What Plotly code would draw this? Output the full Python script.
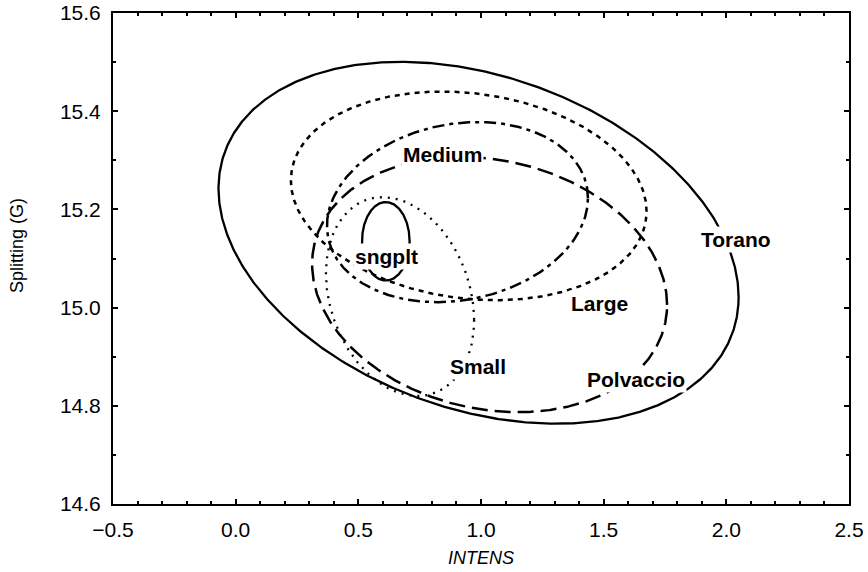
import numpy as np
import plotly.graph_objects as go

# Ellipse summaries (centre, half-axes, correlation)
names = ["Torano", "Polvaccio", "Large", "Medium", "Small", "sngplt"]
center_x = [0.99, 1.035, 0.95, 0.904, 0.67, 0.612]
center_y = [15.132, 15.047, 15.2275, 15.1945, 15.0225, 15.135]
radius_x = [1.06, 0.7235, 0.725, 0.532, 0.302, 0.097]
radius_y = [0.3685, 0.26, 0.2125, 0.1835, 0.2025, 0.08]
corr = [-0.30, -0.16, -0.15, 0.155, -0.235, 0.0]

label_x = [2.040, 1.632, 1.485, 0.845, 0.988, 0.613]
label_y = [15.138, 14.853, 15.009, 15.311, 14.881, 15.105]

x_ticks = [-0.5, 0.0, 0.5, 1.0, 1.5, 2.0, 2.5]
y_ticks = [14.6, 14.8, 15.0, 15.2, 15.4, 15.6]

dashes = ["solid", "16px,7px", "5px,5px", "12px,5px,4px,5px", "2px,6px", "solid"]
widths = [2.3, 2.5, 2.5, 2.5, 2.3, 2.3]

t = np.linspace(0, 2 * np.pi, 721)
fig = go.Figure()
for i, n in enumerate(names):
    r = corr[i]
    xs = center_x[i] + radius_x[i] * np.cos(t)
    ys = center_y[i] + radius_y[i] * (r * np.cos(t) + np.sqrt(1 - r * r) * np.sin(t))
    fig.add_trace(go.Scatter(x=xs, y=ys, mode="lines", name=n,
                             line=dict(color="black", width=widths[i], dash=dashes[i]),
                             hoverinfo="skip", showlegend=False))

for i, n in enumerate(names):
    fig.add_annotation(x=label_x[i], y=label_y[i], text="<b>%s</b>" % n, showarrow=False,
                       font=dict(family="Liberation Sans, Arial", size=21, color="black"),
                       bgcolor="white", borderpad=1)

fig.add_annotation(xref="paper", yref="paper", x=0.5, y=-0.110, text="INTENS",
                   showarrow=False, yanchor="middle",
                   font=dict(family="Liberation Sans, Arial", size=18, color="black", style="italic"))
fig.add_annotation(xref="paper", yref="paper", x=-0.1304, y=0.5255, text="Splitting (G)",
                   showarrow=False, textangle=-90, xanchor="center", yanchor="middle",
                   font=dict(family="Liberation Sans, Arial", size=18, color="black"))

axis_common = dict(showgrid=False, zeroline=False, showline=True, linecolor="black",
                   linewidth=2, mirror="ticks", ticks="inside", ticklen=5, tickwidth=1.5,
                   tickcolor="black", automargin=False,
                   tickfont=dict(family="Liberation Sans, Arial", size=21, color="black"))
fig.update_xaxes(range=[-0.5, 2.5], tickvals=x_ticks, tickformat=".1f",
                 minor=dict(dtick=0.1, ticks="inside", ticklen=3, tickcolor="black"),
                 ticklabelstandoff=6, **axis_common)
fig.update_yaxes(range=[14.6, 15.6], tickvals=y_ticks, tickformat=".1f",
                 minor=dict(dtick=0.1, ticks="inside", ticklen=3, tickcolor="black"),
                 ticklabelstandoff=6, **axis_common)

fig.update_layout(width=868, height=572, margin=dict(l=113, r=19, t=13, b=68),
                  plot_bgcolor="white", paper_bgcolor="white")
fig.write_html("out.html")
